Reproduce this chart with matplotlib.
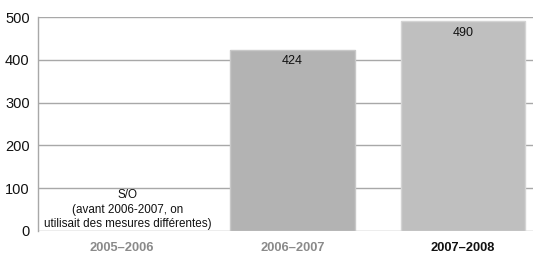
import matplotlib
matplotlib.use("Agg")
import matplotlib.pyplot as plt

categories = ["2005–2006", "2006–2007", "2007–2008"]
values = [0, 424, 490]
bar_labels = ["", "424", "490"]
yticks = [0, 100, 200, 300, 400, 500]
note = "S/O\n(avant 2006-2007, on\nutilisait des mesures différentes)"

plt.rcParams['font.family'] = ['Liberation Sans', 'DejaVu Sans']

fig = plt.figure(figsize=(5.33, 2.58), dpi=100)
ax = fig.add_axes([0.0713, 0.1047, 0.9287, 0.829])

colors = ["#ffffff", "#b3b3b3", "#bfbfbf"]
edges = ["none", "#c8c8c8", "#d4d4d4"]
x = list(range(len(categories)))
for i in x:
    if values[i] > 0:
        ax.bar(i, values[i], width=0.73, color=colors[i], edgecolor=edges[i], linewidth=1, zorder=3)
        ax.text(i, values[i] - 27, bar_labels[i], ha="center", va="center", fontsize=9, color="#111111", zorder=4)

ax.text(0.03, 50, note, ha="center", va="center", fontsize=8.4, color="#111111", linespacing=1.3, zorder=4)

ax.set_xlim(-0.494, 2.41)
ax.set_ylim(0, 500)
ax.set_yticks(yticks)
ax.set_yticklabels([str(t) for t in yticks], fontsize=10.5, color="#111111")
ax.set_xticks(x)
ax.set_xticklabels(categories, fontsize=9.3, fontweight="bold")
tl = ax.get_xticklabels()
tl[0].set_color("#8a8a8a")
tl[1].set_color("#8a8a8a")
tl[2].set_color("#111111")
ax.tick_params(axis="both", length=0)
ax.tick_params(axis="x", pad=8)
ax.tick_params(axis="y", pad=6)

ax.yaxis.grid(True, color="#a8a8a8", linewidth=1.0, zorder=0)
ax.set_axisbelow(True)
for s in ["top", "right", "bottom"]:
    ax.spines[s].set_visible(False)
ax.spines["left"].set_color("#a8a8a8")
ax.spines["left"].set_linewidth(1.0)

fig.savefig("out.png", dpi=100)
